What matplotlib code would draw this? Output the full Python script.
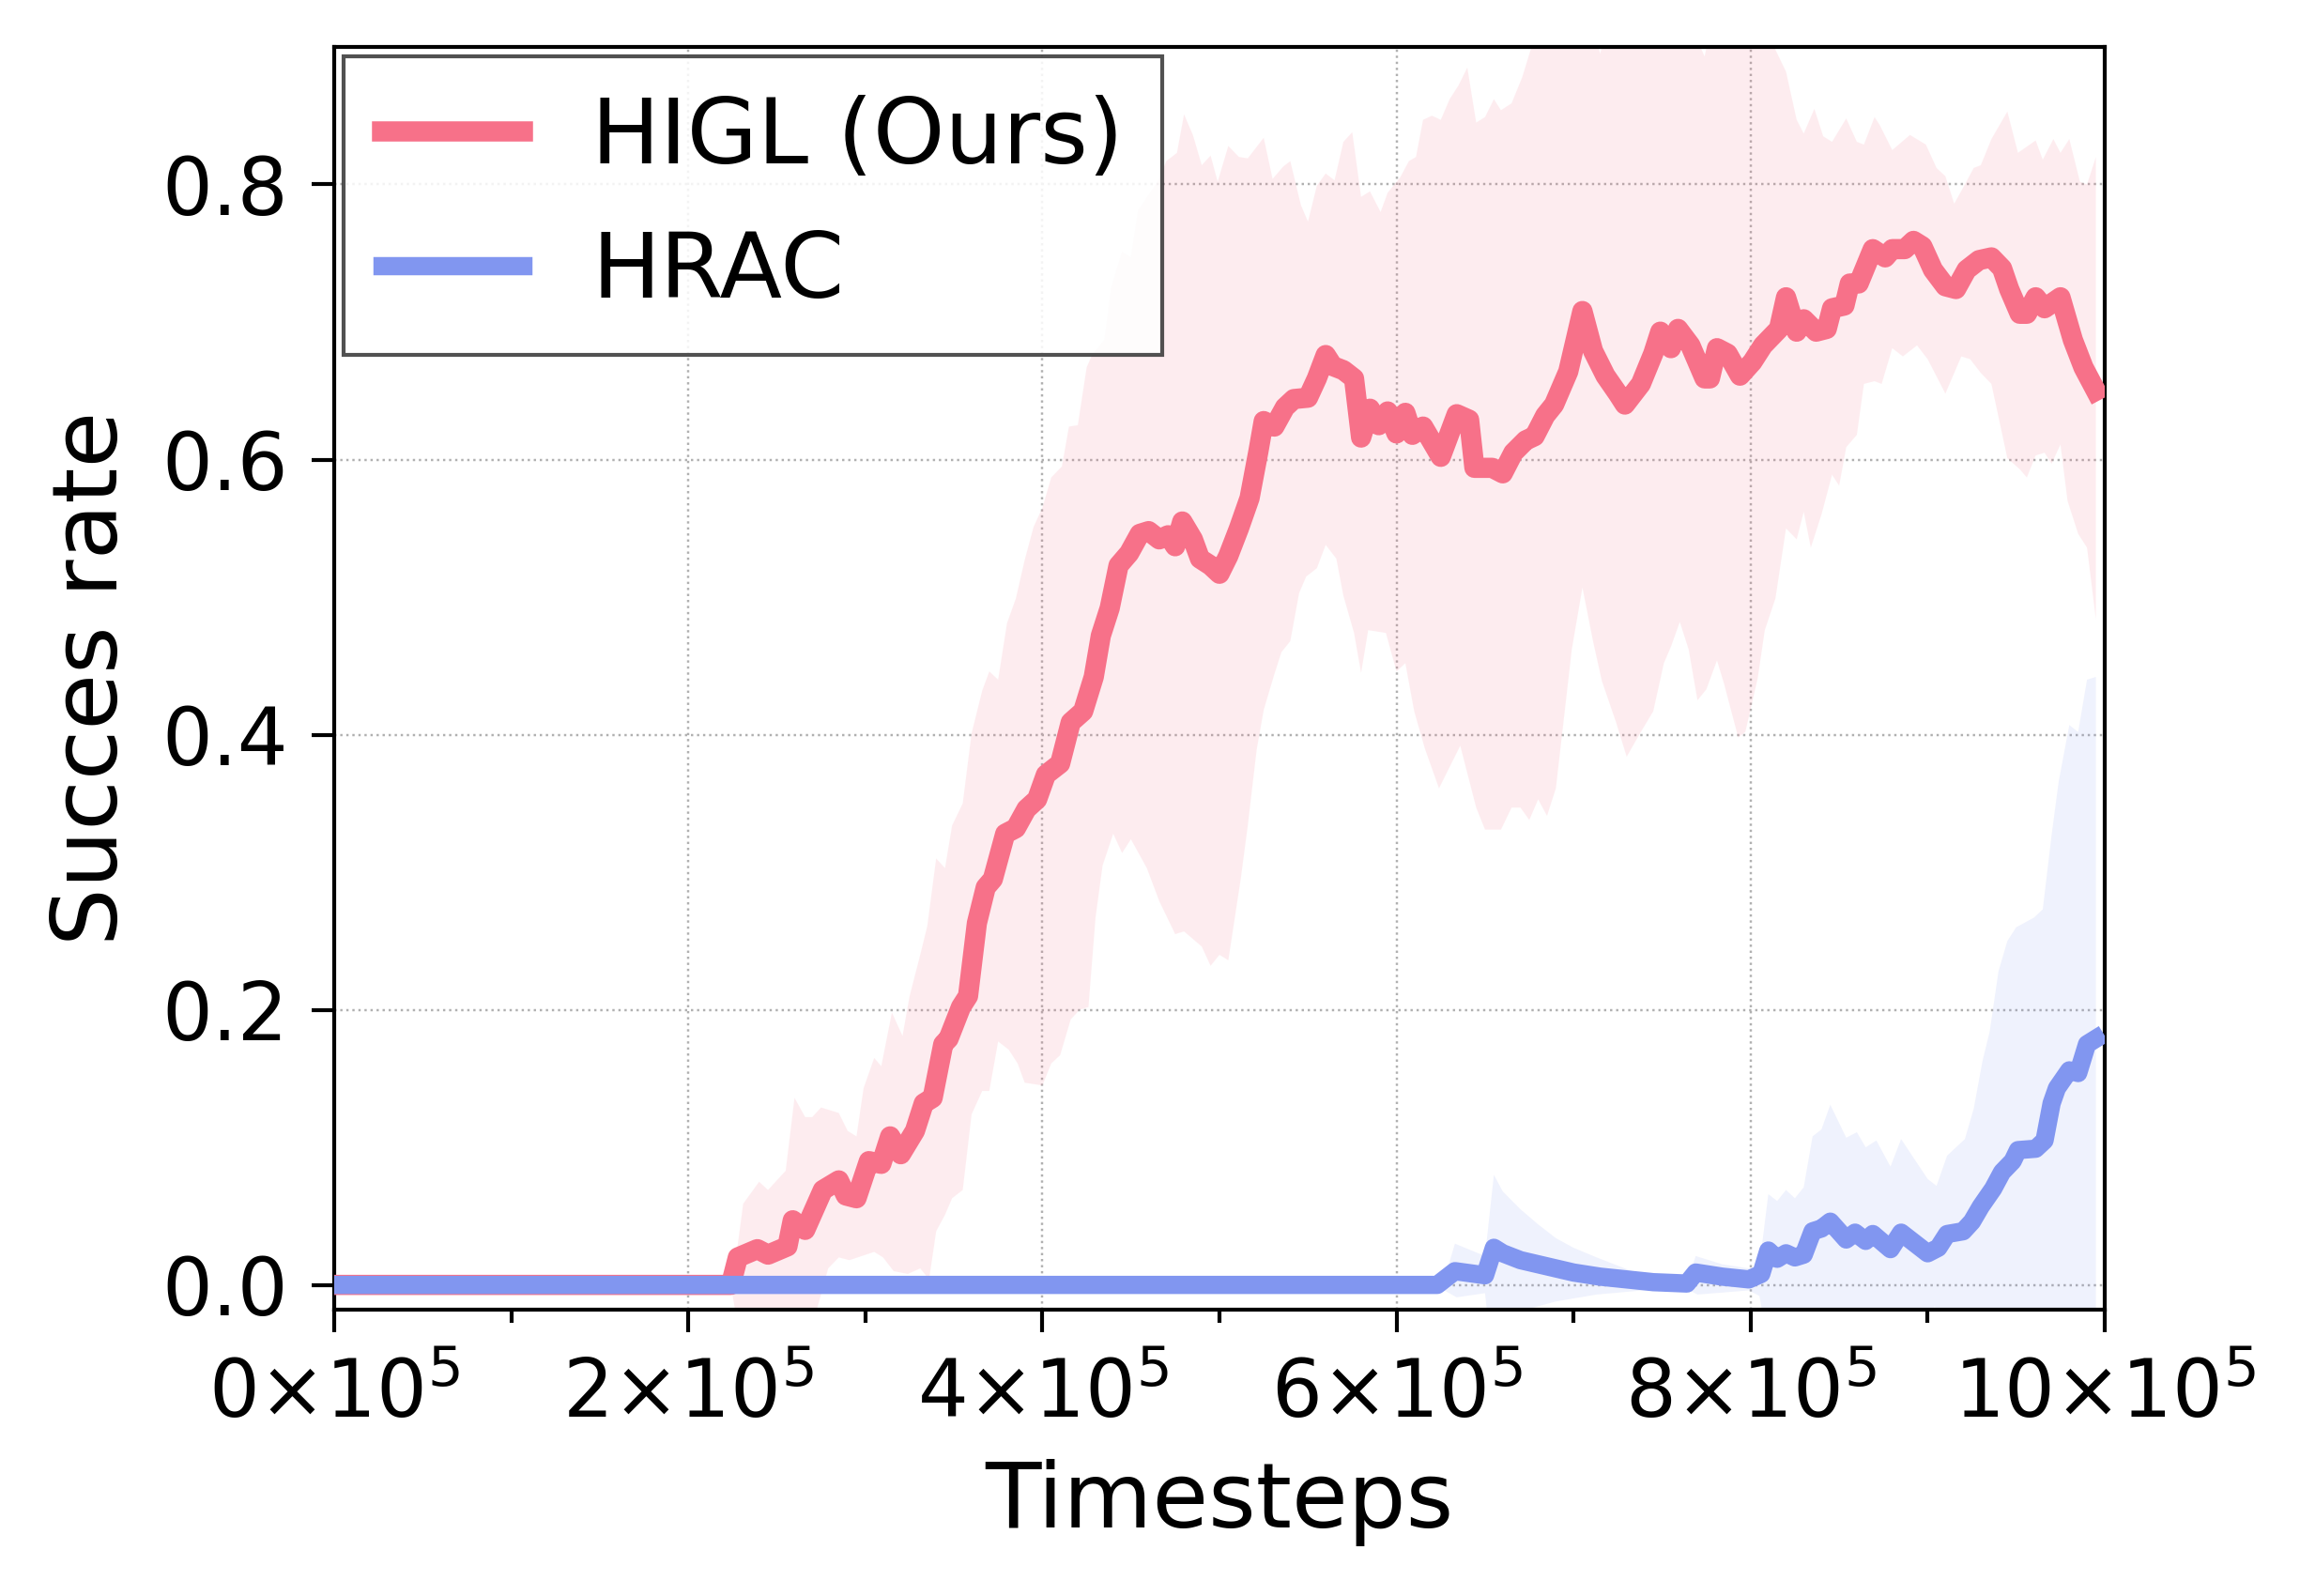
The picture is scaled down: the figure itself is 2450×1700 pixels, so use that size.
import numpy as np
import matplotlib
matplotlib.use("Agg")
import matplotlib.pyplot as plt
from matplotlib.ticker import MultipleLocator

# ---------------- data (x in units of 1e5 timesteps) ----------------
SERIES_NAMES = ["HIGL (Ours)", "HRAC"]

HIGL_X = [0, 2.24, 2.28, 2.39, 2.45, 2.56, 2.59, 2.66, 2.76, 2.85,
          2.89, 2.95, 3.02, 3.09, 3.14, 3.20, 3.28, 3.33, 3.38, 3.44,
          3.47, 3.54, 3.58, 3.63, 3.68, 3.72, 3.79, 3.85, 3.91, 3.97,
          4.02, 4.10, 4.16, 4.23, 4.29, 4.33, 4.38, 4.43, 4.49, 4.55,
          4.60, 4.66, 4.71, 4.75, 4.79, 4.85, 4.89, 4.95, 5.00, 5.05,
          5.11, 5.17, 5.22, 5.25, 5.31, 5.37, 5.42, 5.50, 5.55, 5.60,
          5.64, 5.70, 5.76, 5.80, 5.85, 5.90, 5.95, 6.00, 6.05, 6.09,
          6.15, 6.25, 6.34, 6.41, 6.44, 6.54, 6.60, 6.66, 6.73, 6.78,
          6.84, 6.89, 6.93, 6.97, 7.05, 7.11, 7.18, 7.25, 7.29, 7.38,
          7.45, 7.49, 7.55, 7.59, 7.66, 7.74, 7.77, 7.81, 7.87, 7.94,
          8.01, 8.07, 8.16, 8.20, 8.26, 8.30, 8.37, 8.43, 8.46, 8.53,
          8.56, 8.61, 8.69, 8.76, 8.80, 8.87, 8.92, 8.97, 9.03, 9.10,
          9.16, 9.22, 9.29, 9.36, 9.42, 9.46, 9.52, 9.56, 9.61, 9.66,
          9.75, 9.82, 9.88, 9.95]
HIGL_MEAN = [0, 0, 0.020, 0.026, 0.022, 0.028, 0.047, 0.040, 0.069, 0.076,
             0.065, 0.063, 0.090, 0.088, 0.108, 0.095, 0.112, 0.132, 0.136, 0.175,
             0.179, 0.202, 0.210, 0.263, 0.289, 0.295, 0.328, 0.332, 0.346, 0.353,
             0.371, 0.379, 0.409, 0.417, 0.442, 0.472, 0.492, 0.523, 0.532, 0.546,
             0.548, 0.542, 0.545, 0.537, 0.555, 0.542, 0.528, 0.523, 0.517, 0.530,
             0.550, 0.572, 0.606, 0.628, 0.624, 0.638, 0.644, 0.645, 0.659, 0.676,
             0.668, 0.665, 0.659, 0.616, 0.637, 0.625, 0.635, 0.619, 0.634, 0.618,
             0.624, 0.602, 0.633, 0.629, 0.594, 0.594, 0.590, 0.605, 0.614, 0.617,
             0.632, 0.640, 0.652, 0.664, 0.708, 0.679, 0.661, 0.648, 0.640, 0.655,
             0.677, 0.693, 0.681, 0.695, 0.683, 0.659, 0.659, 0.681, 0.677, 0.661,
             0.671, 0.683, 0.695, 0.718, 0.693, 0.702, 0.693, 0.695, 0.710, 0.712,
             0.728, 0.728, 0.753, 0.747, 0.753, 0.753, 0.759, 0.755, 0.738, 0.726,
             0.724, 0.738, 0.745, 0.747, 0.739, 0.724, 0.706, 0.706, 0.718, 0.710,
             0.718, 0.687, 0.667, 0.650]

HIGL_UP_X = [0, 2.24, 2.28, 2.31, 2.40, 2.45, 2.55, 2.60, 2.66, 2.70,
             2.75, 2.85, 2.90, 2.95, 2.99, 3.05, 3.09, 3.15, 3.21, 3.25,
             3.31, 3.35, 3.40, 3.45, 3.49, 3.55, 3.60, 3.66, 3.70, 3.75,
             3.80, 3.85, 3.90, 3.95, 4.00, 4.05, 4.11, 4.15, 4.20, 4.25,
             4.28, 4.35, 4.39, 4.45, 4.50, 4.54, 4.65, 4.70, 4.76, 4.80,
             4.85, 4.90, 4.95, 4.99, 5.05, 5.11, 5.16, 5.25, 5.30, 5.36,
             5.40, 5.46, 5.50, 5.55, 5.60, 5.65, 5.70, 5.75, 5.80, 5.85,
             5.91, 5.95, 6.02, 6.07, 6.11, 6.15, 6.20, 6.25, 6.30, 6.35,
             6.40, 6.45, 6.50, 6.55, 6.59, 6.65, 6.71, 6.76, 6.85, 7.00,
             7.10, 7.15, 7.20, 7.40, 7.60, 7.70, 7.74, 7.80, 8.00, 8.10,
             8.14, 8.20, 8.26, 8.30, 8.36, 8.41, 8.46, 8.54, 8.60, 8.64,
             8.70, 8.73, 8.80, 8.90, 8.99, 9.05, 9.10, 9.15, 9.21, 9.26,
             9.30, 9.36, 9.45, 9.51, 9.61, 9.65, 9.71, 9.75, 9.80, 9.86,
             9.90, 9.95]
HIGL_UPPER = [0, 0, 0.030, 0.059, 0.075, 0.069, 0.083, 0.136, 0.122, 0.122,
              0.129, 0.125, 0.112, 0.108, 0.143, 0.165, 0.159, 0.198, 0.181, 0.210,
              0.240, 0.261, 0.310, 0.303, 0.334, 0.350, 0.401, 0.432, 0.446, 0.440,
              0.481, 0.499, 0.527, 0.551, 0.565, 0.587, 0.595, 0.624, 0.625, 0.667,
              0.676, 0.687, 0.726, 0.751, 0.747, 0.781, 0.802, 0.817, 0.823, 0.851,
              0.836, 0.814, 0.821, 0.802, 0.828, 0.820, 0.819, 0.834, 0.804, 0.813,
              0.817, 0.785, 0.773, 0.799, 0.808, 0.803, 0.831, 0.838, 0.791, 0.795,
              0.780, 0.794, 0.805, 0.817, 0.820, 0.847, 0.850, 0.847, 0.862, 0.872,
              0.885, 0.845, 0.849, 0.862, 0.854, 0.859, 0.878, 0.899, 0.930, 0.950,
              0.920, 0.895, 0.920, 0.950, 0.930, 0.905, 0.893, 0.930, 0.950, 0.920,
              0.898, 0.882, 0.847, 0.837, 0.855, 0.835, 0.831, 0.848, 0.831, 0.829,
              0.849, 0.843, 0.825, 0.836, 0.829, 0.812, 0.806, 0.786, 0.800, 0.812,
              0.814, 0.833, 0.853, 0.823, 0.832, 0.818, 0.833, 0.823, 0.833, 0.802,
              0.800, 0.820]

HIGL_LO_X = [0, 2.24, 2.28, 2.70, 2.79, 2.85, 2.91, 3.05, 3.10, 3.16,
             3.24, 3.31, 3.36, 3.40, 3.45, 3.49, 3.55, 3.60, 3.66, 3.70,
             3.75, 3.81, 3.86, 3.90, 4.00, 4.05, 4.10, 4.16, 4.21, 4.26,
             4.30, 4.34, 4.40, 4.45, 4.50, 4.59, 4.66, 4.75, 4.80, 4.90,
             4.95, 5.00, 5.05, 5.12, 5.16, 5.21, 5.25, 5.31, 5.35, 5.40,
             5.45, 5.49, 5.55, 5.60, 5.66, 5.70, 5.76, 5.80, 5.84, 5.94,
             6.00, 6.05, 6.10, 6.16, 6.24, 6.36, 6.45, 6.50, 6.59, 6.65,
             6.70, 6.75, 6.80, 6.85, 6.90, 6.95, 6.99, 7.05, 7.11, 7.16,
             7.24, 7.30, 7.38, 7.45, 7.51, 7.55, 7.60, 7.65, 7.70, 7.75,
             7.81, 7.85, 7.93, 7.97, 8.04, 8.08, 8.14, 8.20, 8.26, 8.30,
             8.34, 8.40, 8.46, 8.50, 8.54, 8.60, 8.64, 8.70, 8.74, 8.80,
             8.86, 8.94, 9.00, 9.10, 9.19, 9.24, 9.30, 9.36, 9.45, 9.52,
             9.56, 9.61, 9.66, 9.70, 9.75, 9.79, 9.85, 9.90, 9.95]
HIGL_LOWER = [0, 0, -0.030, -0.030, 0.012, 0.020, 0.018, 0.024, 0.020, 0.010,
              0.008, 0.012, 0.004, 0.039, 0.051, 0.063, 0.069, 0.124, 0.141, 0.141,
              0.177, 0.171, 0.161, 0.147, 0.145, 0.161, 0.167, 0.193, 0.200, 0.202,
              0.267, 0.305, 0.328, 0.314, 0.324, 0.303, 0.279, 0.255, 0.257, 0.246,
              0.232, 0.240, 0.236, 0.295, 0.334, 0.389, 0.418, 0.444, 0.460, 0.468,
              0.503, 0.515, 0.521, 0.538, 0.528, 0.501, 0.474, 0.445, 0.476, 0.474,
              0.446, 0.452, 0.417, 0.390, 0.361, 0.392, 0.347, 0.331, 0.331, 0.347,
              0.347, 0.338, 0.353, 0.341, 0.361, 0.417, 0.462, 0.507, 0.468, 0.439,
              0.409, 0.384, 0.402, 0.417, 0.452, 0.464, 0.482, 0.462, 0.425, 0.433,
              0.454, 0.437, 0.398, 0.402, 0.441, 0.476, 0.499, 0.550, 0.542, 0.562,
              0.536, 0.560, 0.589, 0.581, 0.609, 0.618, 0.655, 0.657, 0.655, 0.681,
              0.675, 0.683, 0.673, 0.648, 0.675, 0.673, 0.663, 0.655, 0.601, 0.593,
              0.587, 0.603, 0.605, 0.597, 0.611, 0.570, 0.546, 0.536, 0.484]

HRAC_X = [0, 6.23, 6.33, 6.50, 6.55, 6.60, 6.70, 6.80, 6.90, 7.00,
          7.15, 7.30, 7.45, 7.64, 7.69, 7.84, 7.99, 8.06, 8.10, 8.15,
          8.20, 8.25, 8.30, 8.35, 8.40, 8.45, 8.54, 8.59, 8.65, 8.69,
          8.79, 8.85, 9.00, 9.06, 9.11, 9.20, 9.25, 9.30, 9.37, 9.42,
          9.48, 9.51, 9.61, 9.66, 9.70, 9.73, 9.80, 9.85, 9.90, 9.95]
HRAC_MEAN = [0, 0, 0.010, 0.007, 0.027, 0.023, 0.018, 0.015, 0.012, 0.009,
             0.006, 0.004, 0.002, 0.001, 0.009, 0.006, 0.004, 0.008, 0.025, 0.019,
             0.023, 0.020, 0.022, 0.039, 0.041, 0.046, 0.033, 0.038, 0.032, 0.037,
             0.026, 0.038, 0.023, 0.027, 0.037, 0.039, 0.046, 0.057, 0.070, 0.082,
             0.090, 0.098, 0.099, 0.105, 0.132, 0.143, 0.156, 0.154, 0.175, 0.179]

HRAC_UP_X = [0, 6.23, 6.27, 6.33, 6.50, 6.55, 6.60, 6.70, 6.80, 6.90,
             7.00, 7.13, 7.33, 7.54, 7.64, 7.69, 7.84, 7.99, 8.05, 8.10,
             8.15, 8.20, 8.25, 8.30, 8.35, 8.40, 8.45, 8.54, 8.60, 8.65,
             8.71, 8.79, 8.85, 9.00, 9.05, 9.11, 9.21, 9.26, 9.31, 9.35,
             9.40, 9.45, 9.50, 9.60, 9.65, 9.70, 9.74, 9.80, 9.85, 9.90,
             9.95]
HRAC_UPPER = [0, 0, 0.004, 0.030, 0.021, 0.080, 0.068, 0.055, 0.044, 0.034,
              0.027, 0.020, 0.010, 0.004, 0.002, 0.021, 0.015, 0.012, 0.014, 0.066,
              0.061, 0.069, 0.063, 0.071, 0.108, 0.113, 0.131, 0.107, 0.111, 0.100,
              0.105, 0.086, 0.106, 0.077, 0.072, 0.094, 0.106, 0.128, 0.163, 0.184,
              0.228, 0.250, 0.260, 0.267, 0.273, 0.327, 0.366, 0.407, 0.402, 0.440,
              0.442]

HRAC_LO_X = [0, 6.23, 6.27, 6.34, 6.50, 6.52, 6.73, 6.90, 7.13, 7.39,
             7.64, 7.70, 7.99, 8.05, 8.08, 9.02, 9.04, 9.06, 9.95]
HRAC_LOWER = [0, 0, -0.004, -0.009, -0.006, -0.030, -0.018, -0.012, -0.007, -0.004,
              -0.003, -0.007, -0.004, -0.008, -0.030, -0.030, -0.015, -0.030, -0.030]

XTICKS = [0, 2, 4, 6, 8, 10]
XTICK_LABELS = [r"$0{\times}10^{5}$", r"$2{\times}10^{5}$", r"$4{\times}10^{5}$",
                r"$6{\times}10^{5}$", r"$8{\times}10^{5}$", r"$10{\times}10^{5}$"]
YTICKS = [0.0, 0.2, 0.4, 0.6, 0.8]
YTICK_LABELS = ["0.0", "0.2", "0.4", "0.6", "0.8"]

RED = "#f77189"
BLUE = "#8196f0"

# ---------------- figure ----------------
plt.rcParams["font.family"] = ["DejaVu Sans"]
plt.rcParams["mathtext.fontset"] = "dejavusans"

fig = plt.figure(figsize=(4.9, 3.4), dpi=500)
ax = fig.add_axes([0.1453, 0.1794, 0.7698, 0.7912])

def band(xu, up, xl, lo, color, alpha):
    xs = np.concatenate([np.asarray(xu, float), np.asarray(xl, float)[::-1]]) * 1e5
    ys = np.concatenate([np.asarray(up, float), np.asarray(lo, float)[::-1]])
    ax.fill(xs, ys, color=color, alpha=alpha, linewidth=0, zorder=1)

band(HIGL_UP_X, HIGL_UPPER, HIGL_LO_X, HIGL_LOWER, RED, 0.13)
ax.plot(np.asarray(HIGL_X) * 1e5, HIGL_MEAN, color=RED, lw=3.1,
        label=SERIES_NAMES[0], zorder=3, solid_joinstyle="round")
band(HRAC_UP_X, HRAC_UPPER, HRAC_LO_X, HRAC_LOWER, BLUE, 0.12)
ax.plot(np.asarray(HRAC_X) * 1e5, HRAC_MEAN, color=BLUE, lw=2.8,
        label=SERIES_NAMES[1], zorder=4, solid_joinstyle="round")

ax.set_xlim(0, 1e6)
ax.set_ylim(-0.018, 0.9)
ax.set_xticks([t * 1e5 for t in XTICKS])
ax.set_xticklabels(XTICK_LABELS)
ax.xaxis.set_minor_locator(MultipleLocator(1e5))
ax.set_yticks(YTICKS)
ax.set_yticklabels(YTICK_LABELS)

ax.tick_params(axis="both", which="major", labelsize=12.2, width=0.6, length=3.5, color="black")
ax.tick_params(axis="x", which="minor", width=0.6, length=2.0)
for sp in ax.spines.values():
    sp.set_linewidth(0.6)
    sp.set_color("black")

ax.grid(True, which="major", linestyle=":", color="#b0b0b0", linewidth=0.35, zorder=0)
ax.set_axisbelow(True)

ax.set_xlabel("Timesteps", fontsize=14)
ax.set_ylabel("Succes rate", fontsize=14)

leg = ax.legend(loc="upper left", fontsize=14, fancybox=False, edgecolor="0.2",
                framealpha=0.85, borderaxespad=0.1, handlelength=1.55,
                labelspacing=0.52, borderpad=0.42, handletextpad=0.75)
leg.get_frame().set_linewidth(0.6)

fig.savefig("out.png", dpi=500)
